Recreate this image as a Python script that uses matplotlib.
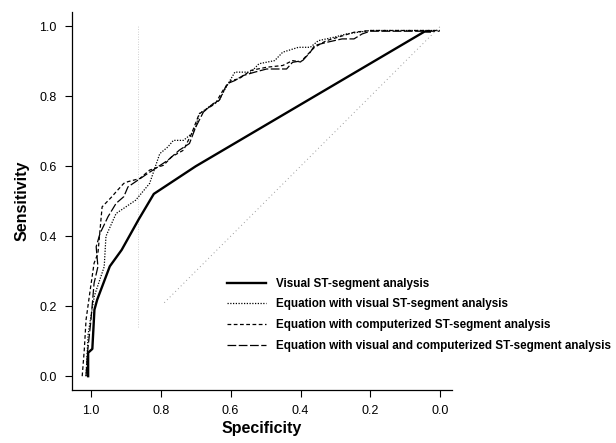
"""
ROC curves: visual vs. equation-based ST-segment analysis
"""

import matplotlib.pyplot as plt

plt.rcParams['font.family'] = ['Liberation Sans', 'DejaVu Sans']

# Visual ST-segment analysis (solid)
visual_spec = [1.008, 1.008, 0.996, 0.990, 0.982, 0.946, 0.912, 0.864, 0.820, 0.700, 0.045, 0.030]
visual_sens = [0.000, 0.067, 0.078, 0.190, 0.219, 0.314, 0.361, 0.447, 0.521, 0.600, 0.985, 0.985]

# Equation with visual ST-segment analysis (dotted)
eq_vis_spec = [1.014, 1.008, 0.997, 0.990, 0.962, 0.957, 0.928, 0.872, 0.832, 0.803, 0.780,
               0.764, 0.735, 0.712, 0.700, 0.690, 0.656, 0.633, 0.616, 0.588, 0.542, 0.519,
               0.474, 0.451, 0.406, 0.372, 0.349, 0.303, 0.269, 0.201, 0.002]
eq_vis_sens = [0.000, 0.120, 0.190, 0.230, 0.313, 0.400, 0.465, 0.503, 0.551, 0.636, 0.655,
               0.674, 0.674, 0.693, 0.712, 0.750, 0.774, 0.788, 0.821, 0.869, 0.869, 0.893,
               0.902, 0.926, 0.940, 0.940, 0.959, 0.969, 0.978, 0.988, 0.988]

# Equation with computerized ST-segment analysis (short dashes)
eq_comp_spec = [1.025, 1.019, 1.014, 1.002, 0.991, 0.980, 0.968, 0.940, 0.928, 0.906, 0.894,
                0.860, 0.832, 0.792, 0.769, 0.735, 0.712, 0.690, 0.644, 0.622, 0.599, 0.576,
                0.542, 0.497, 0.451, 0.423, 0.400, 0.360, 0.326, 0.292, 0.247, 0.201, 0.002]
eq_comp_sens = [0.000, 0.076, 0.161, 0.247, 0.323, 0.351, 0.484, 0.513, 0.527, 0.551, 0.556,
                0.565, 0.589, 0.603, 0.627, 0.646, 0.693, 0.750, 0.779, 0.817, 0.845, 0.850,
                0.874, 0.883, 0.888, 0.902, 0.898, 0.940, 0.959, 0.969, 0.983, 0.988, 0.988]

# Equation with visual and computerized ST-segment analysis (long dashes)
eq_both_spec = [1.014, 1.010, 1.000, 0.991, 0.980, 0.985, 0.974, 0.951, 0.928, 0.906, 0.894,
                0.866, 0.838, 0.815, 0.780, 0.747, 0.718, 0.700, 0.678, 0.650, 0.633, 0.610,
                0.588, 0.565, 0.531, 0.497, 0.440, 0.423, 0.394, 0.372, 0.360, 0.326, 0.281,
                0.247, 0.224, 0.201, 0.002]
eq_both_sens = [0.000, 0.066, 0.160, 0.266, 0.313, 0.370, 0.408, 0.456, 0.494, 0.513, 0.541,
                0.560, 0.579, 0.594, 0.617, 0.646, 0.665, 0.712, 0.755, 0.779, 0.788, 0.836,
                0.845, 0.859, 0.869, 0.878, 0.878, 0.897, 0.902, 0.926, 0.945, 0.954, 0.964,
                0.964, 0.978, 0.986, 0.986]

labels = ['Visual ST-segment analysis',
          'Equation with visual ST-segment analysis',
          'Equation with computerized ST-segment analysis',
          'Equation with visual and computerized ST-segment analysis']

ticks = [1.0, 0.8, 0.6, 0.4, 0.2, 0.0]

fig = plt.figure(figsize=(6.16, 4.43), dpi=100)
ax = fig.add_axes([0.117, 0.12, 0.617, 0.853])

# faint reference lines (chance diagonal and cut-off marker)
ax.plot([0.79, 0.0], [0.21, 1.0], color='0.6', lw=0.7, ls=(0, (1, 3)))
ax.plot([0.865, 0.865], [0.14, 1.0], color='0.75', lw=0.6, ls=(0, (1, 2)))

ax.plot(visual_spec, visual_sens, color='black', lw=1.7, label=labels[0])
ax.plot(eq_vis_spec, eq_vis_sens, color='black', lw=0.9, ls=(0, (1, 1.2)), label=labels[1])
ax.plot(eq_comp_spec, eq_comp_sens, color='black', lw=0.9, ls=(0, (3, 2)), label=labels[2])
ax.plot(eq_both_spec, eq_both_sens, color='black', lw=0.9, ls=(0, (7, 2)), label=labels[3])

ax.set_xlim(1.054, -0.034)
ax.set_ylim(-0.039, 1.041)
ax.set_xticks(ticks)
ax.set_yticks(ticks)
ax.set_xticklabels([f'{t:.1f}' for t in ticks])
ax.set_yticklabels([f'{t:.1f}' for t in ticks])
ax.tick_params(direction='out', length=5, width=0.8, labelsize=9, pad=6)

for side in ['top', 'right']:
    ax.spines[side].set_visible(False)
for side in ['left', 'bottom']:
    ax.spines[side].set_linewidth(0.9)

ax.set_xlabel('Specificity', fontsize=11.5, fontweight='bold', labelpad=3)
ax.set_ylabel('Sensitivity', fontsize=11.5, fontweight='bold', labelpad=7)

leg = ax.legend(loc='upper left', bbox_to_anchor=(222 / 616, 1 - 273 / 443),
                bbox_transform=fig.transFigure, frameon=False,
                prop={'size': 8.4, 'weight': 'bold'}, handlelength=3.4,
                handletextpad=0.8, labelspacing=0.75, borderaxespad=0)

fig.savefig('out.png', dpi=100)
